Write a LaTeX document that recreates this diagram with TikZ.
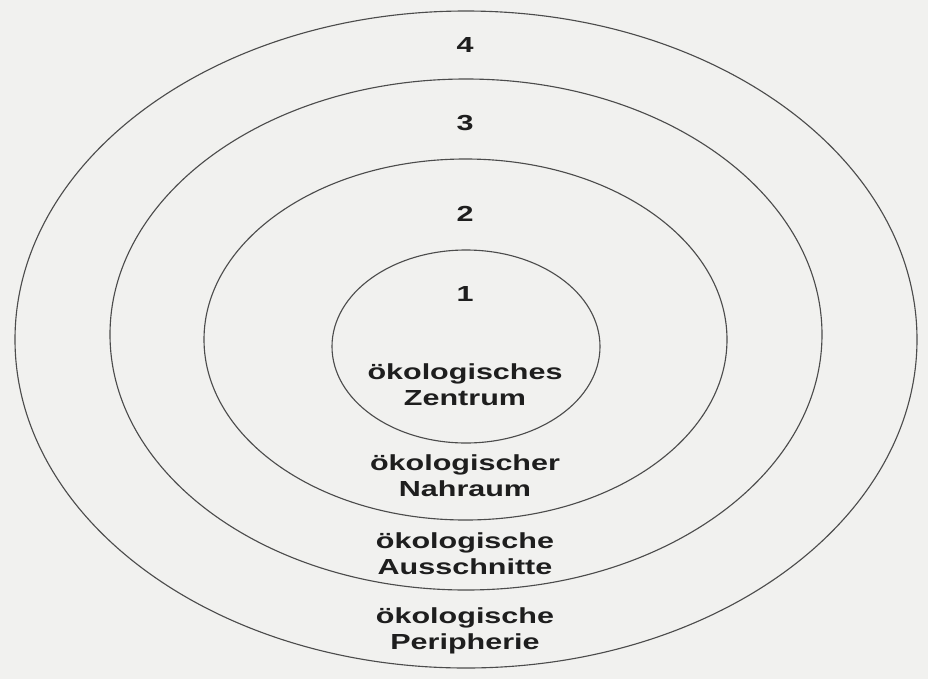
\documentclass[tikz,border=0pt]{standalone}
\usepackage{fontspec}
\setmainfont{Liberation Sans}
\usepackage{xcolor}
\usetikzlibrary{positioning}
\definecolor{paper}{RGB}{241,241,239}
\definecolor{ink}{RGB}{30,30,30}

\begin{document}
\begin{tikzpicture}[
  x=0.025cm, y=-0.025cm,
  ring/.style={draw=black!70, line width=0.8pt},
  num/.style={font=\fontsize{15.5}{18.5}\selectfont\bfseries, text=ink, inner sep=0pt, xscale=1.4, transform shape},
  zone/.style={num, align=center}]
  \fill[paper] (0,0) rectangle (928,679);
  \useasboundingbox (0,0) rectangle (928,679);
  \draw[ring] (466,339.5) ellipse [x radius=451, y radius=328.5];
  \draw[ring] (466,334.5) ellipse [x radius=356, y radius=255.5];
  \draw[ring] (465.5,339.5) ellipse [x radius=261.5, y radius=180.5];
  \draw[ring] (466,346.5) ellipse [x radius=134, y radius=96.5];
  \node[num] (n4) at (465,45) {4};
  \node[num] (n3) at (465,123) {3};
  \node[num] (n2) at (465,214) {2};
  \node[num] (n1) at (465,294) {1};
  \node[zone] (zentrum) at (465,385) {ökologisches\\Zentrum};
  \node[zone] (nahraum) at (465,476) {ökologischer\\Nahraum};
  \node[zone] (ausschn) at (465,554) {ökologische\\Ausschnitte};
  \node[zone] (periph) at (465,631) {ökologische\\Peripherie};
\end{tikzpicture}
\end{document}
